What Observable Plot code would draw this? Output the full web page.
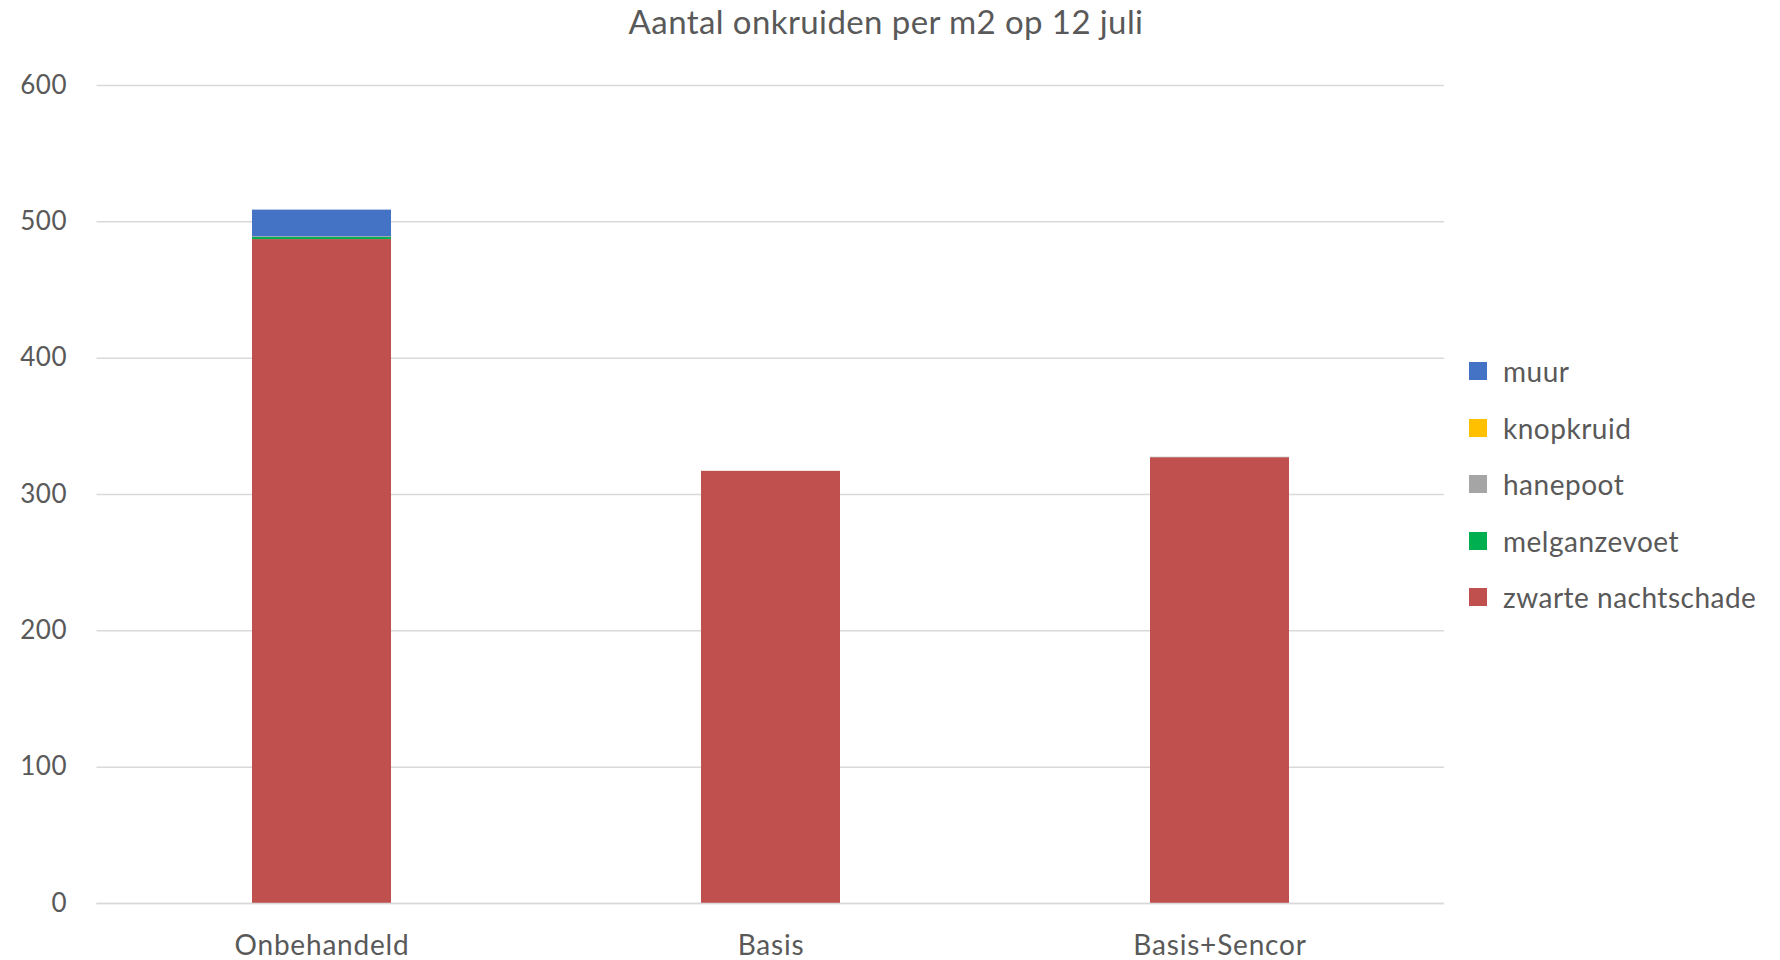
<!DOCTYPE html>
<html>
<head>
<meta charset="utf-8">
<script src="https://cdn.jsdelivr.net/npm/d3@7"></script>
<script src="https://cdn.jsdelivr.net/npm/@observablehq/plot@0.6"></script>
<style>
  html, body { margin: 0; padding: 0; background: #fff; }
  #wrap { position: relative; width: 1780px; height: 960px; font-family: Lato, "Open Sans", sans-serif; color: #595959; }
  #title { position: absolute; left: 0; width: 1772px; top: 1px; text-align: center; font-size: 33px; letter-spacing: 0.4px; }
  #legend { position: absolute; left: 1469px; top: 343px; }
  .item { display: flex; align-items: center; height: 56.5px; font-size: 28px; letter-spacing: 0.5px; }
  .sw { width: 18px; height: 18px; margin-right: 16px; }
  svg text { fill: #595959; }
  .xax text { letter-spacing: 0.8px; }
  .yax text { letter-spacing: 0.5px; }
</style>
</head>
<body>
<div id="wrap">
  <div id="chart"></div>
  <div id="title">Aantal onkruiden per m2 op 12 juli</div>
  <div id="legend"></div>
</div>
<script>
const categories = ["Onbehandeld", "Basis", "Basis+Sencor"];
const series = ["zwarte nachtschade", "melganzevoet", "hanepoot", "knopkruid", "muur"];
const colors = ["#C0504D", "#00B050", "#A5A5A5", "#FFC000", "#4472C4"];
const zwarteNachtschade = [487, 317, 327];
const melganzevoet = [1.5, 0, 0];
const hanepoot = [0.6, 0, 0.3];
const knopkruid = [0, 0, 0];
const muur = [19.5, 0, 0];
const yTicks = [0, 100, 200, 300, 400, 500, 600];

const valuesBySeries = [zwarteNachtschade, melganzevoet, hanepoot, knopkruid, muur];
const rows = [];
series.forEach((s, i) => categories.forEach((c, j) => rows.push({category: c, series: s, value: valuesBySeries[i][j]})));

const chart = Plot.plot({
  width: 1780,
  height: 960,
  marginLeft: 96.5,
  marginRight: 336,
  marginTop: 85,
  marginBottom: 57,
  style: {fontFamily: "Lato, 'Open Sans', sans-serif", fontSize: "24px", color: "#595959", background: "#fff"},
  x: {domain: categories, paddingInner: 0.69, paddingOuter: 0.345, label: null},
  y: {domain: [0, 600], label: null},
  color: {domain: series, range: colors},
  marks: [
    Plot.gridY(yTicks, {stroke: "#d9d9d9", strokeOpacity: 1, strokeWidth: 1.5}),
    Plot.barY(rows, {x: "category", y: "value", fill: "series", order: series, inset: 0}),
    Plot.ruleY([0], {stroke: "#d9d9d9", strokeWidth: 1.5}),
    Plot.axisY({ticks: yTicks, tickSize: 0, tickPadding: 30, fontSize: 26, className: "yax"}),
    Plot.axisX({tickSize: 0, tickPadding: 32, fontSize: 28, className: "xax"})
  ]
});
document.getElementById("chart").appendChild(chart);

const legend = document.getElementById("legend");
series.slice().reverse().forEach((s) => {
  const i = series.indexOf(s);
  const d = document.createElement("div");
  d.className = "item";
  d.innerHTML = `<div class="sw" style="background:${colors[i]}"></div><span>${s}</span>`;
  legend.appendChild(d);
});
</script>
</body>
</html>
